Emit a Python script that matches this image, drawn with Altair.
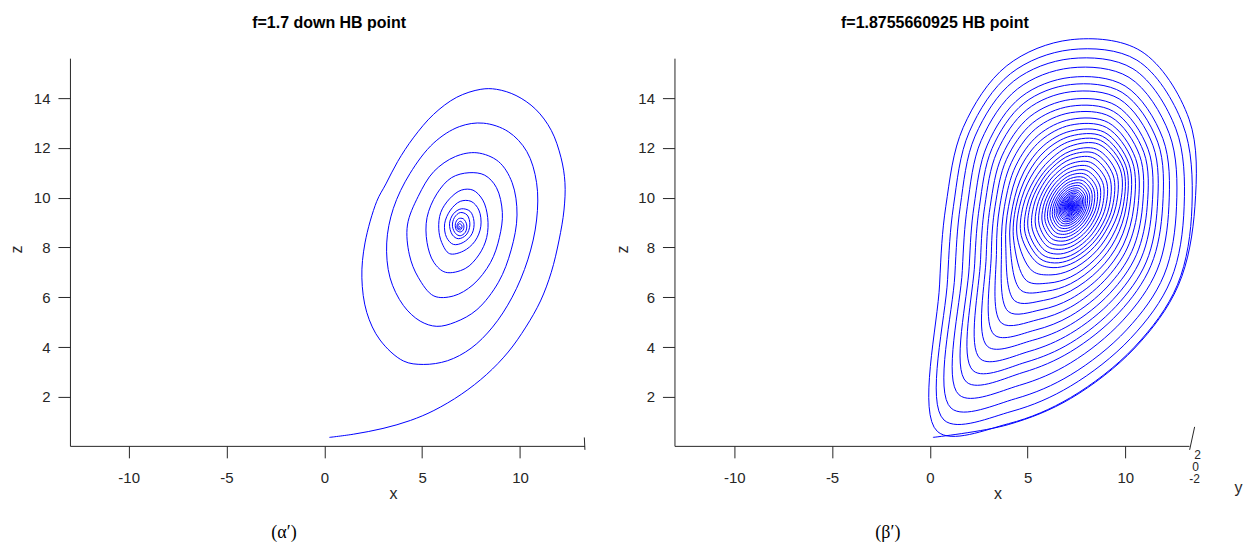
import math
import altair as alt
import pandas as pd

AXIS_COLOR = "#262626"
TRACE_BLUE = "#0000ff"
SANS = "Liberation Sans"
SERIF = "Liberation Serif"

TITLES = ["f=1.7 down HB point", "f=1.8755660925 HB point"]
CAPTIONS = ["(α′)", "(β′)"]
X_TICKS = [-10, -5, 0, 5, 10]
Z_TICKS = [2, 4, 6, 8, 10, 12, 14]
DEPTH_TICKS = ["2", "0", "-2"]

Z_RANGE = [0.03, 15.6]
LEFT_X_RANGE = [-13.0, 13.3]
RIGHT_X_RANGE = [-13.06, 13.26]
PANEL_W, PANEL_H = 515, 388

# f = 1.7: trajectory in the (x, z) view, spiralling into the focus
left_x = [
    0.26, 1.5, 3.0, 4.4, 5.6, 7.0, 8.3, 9.4, 10.3, 11.05, 11.6, 12.0, 12.25, 12.3, 12.1, 11.6,
    10.8, 9.8, 8.8, 8.0, 6.77, 5.58, 4.55, 3.75, 3.15, 2.68, 2.08, 1.92, 2.17, 2.85, 4.04, 5.06,
    6.3, 7.5, 8.6, 9.6, 10.4, 10.85, 10.85, 10.35, 9.4, 8.13, 6.9, 5.6, 4.38, 3.53, 3.19, 3.36,
    4.04, 4.9, 5.75,
    6.7, 7.8, 8.9, 9.55, 9.85, 9.6, 8.9, 7.8, 6.7, 5.6, 4.8, 4.25, 4.35, 4.8, 5.6,
    6.6, 7.6, 8.5, 8.95, 9.1, 8.8, 8.2, 7.4, 6.5, 5.75, 5.25, 5.25, 5.6, 6.2,
    7.2, 7.9, 8.3, 8.35, 8.1, 7.6, 7.0, 6.4, 5.95, 5.85, 6.0, 6.4,
    7.1, 7.7, 8.0, 7.9, 7.5, 6.95, 6.45, 6.15, 6.25, 6.6,
    7.1, 7.55, 7.65, 7.45, 7.0, 6.6, 6.4, 6.55, 6.85,
    7.25, 7.44, 7.3, 6.95, 6.65, 6.55, 6.72, 6.95,
    7.2, 7.28, 7.1, 6.85, 6.7, 6.75, 6.95,
    7.1, 7.12, 6.95, 6.8, 6.8, 6.95,
    7.03, 7.02, 6.9, 6.83, 6.86, 6.95, 6.92, 6.88,
]
left_z = [
    0.37, 0.5, 0.73, 1.05, 1.45, 2.1, 2.9, 3.8, 4.8, 5.85, 7.0, 8.3, 9.5, 10.6, 11.6, 12.7,
    13.55, 14.1, 14.35, 14.35, 14.03, 13.34, 12.4, 11.45, 10.55, 9.85, 8.18, 6.78, 5.39, 4.28, 3.44, 3.3,
    3.45, 3.95, 4.8, 6.0, 7.5, 9.1, 10.6, 11.85, 12.65, 12.99, 12.85, 12.2, 10.97, 9.57, 8.18, 6.78,
    5.67, 5.04, 4.83,
    5.0, 5.5, 6.6, 7.9, 9.3, 10.6, 11.45, 11.8, 11.65, 11.05, 10.05, 8.9, 7.7, 6.8, 6.05,
    6.05, 6.5, 7.4, 8.4, 9.4, 10.4, 10.9, 11.0, 10.8, 10.15, 9.2, 8.2, 7.4, 7.0,
    7.15, 7.7, 8.4, 9.2, 9.9, 10.3, 10.3, 9.95, 9.4, 8.75, 8.2, 7.75,
    7.85, 8.25, 8.85, 9.5, 9.85, 9.85, 9.5, 8.95, 8.4, 8.12,
    8.2, 8.55, 9.05, 9.45, 9.55, 9.35, 8.95, 8.5, 8.35,
    8.5, 8.9, 9.3, 9.4, 9.2, 8.85, 8.55, 8.47,
    8.6, 8.9, 9.15, 9.15, 8.95, 8.7, 8.62,
    8.7, 8.92, 9.05, 8.93, 8.75, 8.7,
    8.78, 8.9, 8.95, 8.86, 8.76, 8.77, 8.84, 8.82,
]

# f = 1.8755660925: slowly contracting spiral around the focus.
# For each ray leaving the focus (angle in degrees, in axis units), the
# distance at which successive turns cross it, in hundredths of an axis unit.
spiral_center = [7.2, 9.65]
spiral_start = [0.16, 0.37]
ray_angles = [233, 250, 270, 300, 330, 0, 30, 60, 90, 120, 150, 180, 205]
ray_reach = {
    233: [1132, 1075, 1015, 948, 884, 827, 767, 705, 647, 587, 529, 475, 422, 374, 325, 284, 262,
          242, 221, 200, 181, 162, 146, 130, 116, 103, 92, 81, 72, 64, 57, 50, 44, 38, 33, 28, 24,
          20, 17, 14, 11, 9, 6, 4],
    250: [933, 929, 876, 822, 765, 710, 666, 620, 573, 529, 484, 442, 402, 363, 328, 293, 262, 242,
          223, 204, 184, 166, 149, 134, 120, 107, 95, 84, 75, 66, 59, 52, 46, 40, 35, 31, 26, 22,
          19, 15, 13, 10, 8, 6, 4],
    270: [772, 768, 722, 677, 629, 584, 549, 511, 475, 440, 405, 372, 340, 311, 284, 256, 232, 214,
          198, 180, 163, 147, 132, 118, 106, 94, 84, 74, 66, 58, 52, 46, 40, 35, 31, 27, 23, 19,
          17, 13, 11, 9, 7, 5, 3],
    300: [657, 653, 613, 573, 531, 494, 464, 433, 403, 374, 345, 319, 293, 269, 247, 225, 205, 189,
          174, 159, 144, 130, 116, 104, 93, 83, 74, 66, 58, 51, 46, 40, 36, 31, 27, 24, 20, 17,
          14, 12, 10, 8, 6, 4, 3],
    330: [636, 631, 592, 552, 511, 475, 447, 417, 389, 362, 335, 311, 287, 265, 245, 224, 205, 190,
          175, 159, 144, 130, 116, 104, 93, 83, 74, 66, 58, 51, 46, 40, 36, 31, 27, 24, 20, 17,
          14, 12, 10, 8, 6, 4, 3],
    0: [636, 621, 581, 542, 503, 471, 444, 417, 392, 368, 345, 324, 303, 285, 269, 252, 232, 215,
        198, 180, 163, 146, 132, 118, 105, 94, 83, 74, 66, 58, 52, 46, 40, 35, 31, 27, 23, 19, 16,
        13, 11, 9, 7, 5, 3],
    30: [700, 662, 622, 583, 545, 515, 487, 458, 433, 408, 384, 364, 344, 326, 310, 294, 271, 251,
         231, 210, 190, 171, 153, 137, 123, 109, 97, 86, 76, 68, 60, 53, 47, 41, 36, 31, 26, 22,
         19, 15, 12, 10, 8, 5, 4],
    60: [720, 678, 638, 598, 558, 528, 498, 467, 440, 414, 388, 366, 344, 325, 306, 288, 265, 246,
         226, 204, 185, 166, 149, 134, 120, 107, 95, 84, 74, 66, 59, 52, 46, 40, 35, 30, 25, 22,
         18, 15, 12, 10, 7, 5, 4],
    90: [669, 629, 593, 556, 518, 489, 460, 429, 402, 376, 349, 326, 302, 282, 262, 242, 222, 206,
         189, 171, 155, 139, 125, 112, 100, 89, 79, 70, 62, 55, 49, 43, 38, 33, 29, 25, 21, 18, 15,
         12, 10, 8, 6, 4, 3],
    120: [652, 615, 581, 544, 507, 478, 448, 416, 387, 359, 330, 305, 280, 258, 236, 214, 196, 182,
          167, 151, 137, 123, 110, 99, 88, 78, 70, 62, 55, 48, 43, 38, 33, 29, 25, 22, 18, 16, 13,
          11, 9, 7, 5, 3],
    150: [634, 598, 564, 528, 492, 464, 435, 405, 378, 350, 324, 300, 276, 255, 235, 214, 197, 182,
          167, 151, 137, 123, 110, 99, 88, 78, 70, 62, 55, 48, 43, 38, 33, 29, 25, 22, 18, 16, 13,
          10, 9, 7, 5, 3],
    180: [638, 599, 564, 528, 494, 466, 439, 411, 386, 362, 338, 317, 296, 279, 261, 243, 223, 207,
          189, 171, 155, 139, 125, 112, 100, 89, 79, 70, 62, 55, 49, 43, 38, 33, 29, 25, 21, 18, 15,
          12, 10, 8, 6, 4],
    205: [739, 694, 653, 611, 572, 541, 508, 476, 447, 418, 390, 366, 342, 321, 300, 278, 256, 237,
          216, 196, 177, 159, 143, 128, 114, 101, 90, 80, 71, 63, 56, 49, 43, 37, 33, 28, 24, 20, 17,
          13, 11, 9, 6, 4],
}
# the 233-degree ray is first crossed on the second turn (the run starts at spiral_start)
first_turn = {233: 1}


def right_trajectory():
    cx, cz = spiral_center
    pts = [tuple(spiral_start)]
    turns = max(len(v) + first_turn.get(a, 0) for a, v in ray_reach.items())
    for k in range(turns):
        for a in ray_angles:
            idx = k - first_turn.get(a, 0)
            reach = ray_reach[a]
            if 0 <= idx < len(reach):
                t = reach[idx] / 100
                th = math.radians(a)
                pts.append((cx + t * math.cos(th), cz + t * math.sin(th)))
    pts.append((cx, cz))
    return pd.DataFrame({"i": range(len(pts)), "x": [p[0] for p in pts], "z": [p[1] for p in pts]})


left_df = pd.DataFrame({"i": range(len(left_x)), "x": left_x, "z": left_z})
right_df = right_trajectory()


def trace(df, xdom, ztitle_x):
    return alt.Chart(df).mark_line(
        color=TRACE_BLUE, strokeWidth=1, interpolate="catmull-rom"
    ).encode(
        x=alt.X("x:Q", scale=alt.Scale(domain=xdom, nice=False, zero=False),
                axis=alt.Axis(values=X_TICKS, grid=False, tickSize=12, tickColor=AXIS_COLOR,
                              domainColor=AXIS_COLOR, labelColor=AXIS_COLOR, labelFont=SANS,
                              labelFontSize=15, labelBaseline="middle", labelPadding=19.6,
                              labelExpr="'' + datum.value", title="x", titleFont=SANS,
                              titleFontSize=16, titleFontWeight="normal", titleColor=AXIS_COLOR,
                              titleX=323.4, titleY=47.6, titleBaseline="middle", titleAlign="center")),
        y=alt.Y("z:Q", scale=alt.Scale(domain=Z_RANGE, nice=False, zero=False),
                axis=alt.Axis(values=Z_TICKS, grid=False, tickSize=12, tickColor=AXIS_COLOR,
                              domainColor=AXIS_COLOR, labelColor=AXIS_COLOR, labelFont=SANS,
                              labelFontSize=15, labelPadding=8, title="z", titleFont=SANS,
                              titleFontSize=16, titleFontWeight="normal", titleColor=AXIS_COLOR,
                              titleX=ztitle_x, titleY=191, titleBaseline="middle", titleAlign="center")),
        order=alt.Order("i:Q"),
    )


def text(label, x, y, size, weight="normal", font=SANS, align="center", color=AXIS_COLOR):
    return alt.Chart(pd.DataFrame({"label": [label]})).mark_text(
        font=font, fontSize=size, fontWeight=weight, align=align, baseline="middle", color=color
    ).encode(x=alt.value(x), y=alt.value(y), text="label:N")


def rule(x1, y1, x2, y2, color=AXIS_COLOR):
    return alt.Chart(pd.DataFrame({"k": [0]})).mark_rule(color=color, strokeWidth=1).encode(
        x=alt.value(x1), y=alt.value(y1), x2=alt.value(x2), y2=alt.value(y2))


left = alt.layer(
    rule(-69.1, -57.5, -69.1, 485.5, color="white"),
    trace(left_df, LEFT_X_RANGE, -53),
    text(TITLES[0], 259.4, -35.5, 16, weight="bold", color="black"),
    text(CAPTIONS[0], 214.2, 475, 18, font=SERIF, color="black"),
    rule(514.8, 379.6, 515.4, 392),
).properties(width=PANEL_W, height=PANEL_H)

right = alt.layer(
    rule(568.1, -57.5, 568.1, 485.5, color="white"),
    trace(right_df, RIGHT_X_RANGE, -52),
    text(TITLES[1], 260.6, -35.5, 16, weight="bold", color="black"),
    text(CAPTIONS[1], 213.6, 475, 18, font=SERIF, color="black"),
    rule(520.6, 369, 515.6, 392),
    text(DEPTH_TICKS[0], 523.6, 397, 12),
    text(DEPTH_TICKS[1], 521.6, 409, 12),
    text(DEPTH_TICKS[2], 520.6, 421, 12),
    text("y", 568.6, 430, 16, align="right"),
).properties(width=PANEL_W, height=PANEL_H)

chart = alt.hconcat(left, right, spacing=90).properties(
    bounds="flush", padding=0
).configure_view(stroke=None)

chart.save("out.html", embed_options={"renderer": "svg", "actions": False})
